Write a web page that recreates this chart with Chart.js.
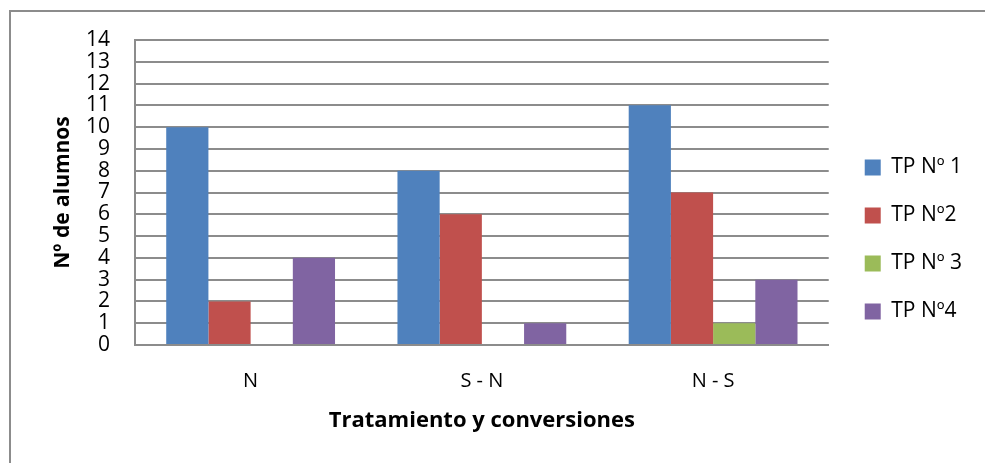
<!DOCTYPE html>
<html>
<head>
<meta charset="utf-8">
<script src="https://cdn.jsdelivr.net/npm/chart.js@4/dist/chart.umd.min.js"></script>
<style>
  html, body { margin: 0; padding: 0; background: #fff; }
  #wrap { width: 985px; height: 463px; position: relative; }
</style>
</head>
<body>
<div id="wrap"><canvas id="c" width="985" height="463"></canvas></div>
<script>
// Categories and series values
const categories = ['N', 'S - N', 'N - S'];
const seriesNames = ['TP Nº 1', 'TP Nº2', 'TP Nº 3', 'TP Nº4'];
const tp1 = [10, 8, 11];
const tp2 = [2, 6, 7];
const tp3 = [0, 0, 1];
const tp4 = [4, 1, 3];
const yTicks = [0, 1, 2, 3, 4, 5, 6, 7, 8, 9, 10, 11, 12, 13, 14];

const colors = ['#4F81BD', '#C0504D', '#9BBB59', '#8064A2'];
const FONT = '"Open Sans", sans-serif';

// Outer frame of the chart object (left and top edges)
const framePlugin = {
  id: 'frame',
  beforeDraw(chart) {
    const ctx = chart.ctx;
    ctx.save();
    ctx.strokeStyle = '#8c8c8c';
    ctx.lineWidth = 2;
    ctx.beginPath();
    ctx.moveTo(10, chart.height + 5);
    ctx.lineTo(10, 11);
    ctx.lineTo(chart.width + 5, 11);
    ctx.stroke();
    ctx.restore();
  }
};

// Leave a gap between the plot and the legend column
const legendGapPlugin = {
  id: 'legendGap',
  afterLayout(chart) {
    const lg = chart.legend;
    if (!lg) return;
    const shift = chart.chartArea.right + 9 - lg.left;
    lg.left += shift;
    lg.right += shift;
  }
};

new Chart(document.getElementById('c'), {
  type: 'bar',
  data: {
    labels: categories,
    datasets: [tp1, tp2, tp3, tp4].map((vals, i) => ({
      label: seriesNames[i],
      data: vals,
      backgroundColor: colors[i],
      borderWidth: 0,
      categoryPercentage: 0.73,
      barPercentage: 1.0
    }))
  },
  options: {
    responsive: false,
    animation: false,
    layout: { padding: { top: 40, left: 0, right: 22, bottom: 24 } },
    plugins: {
      tooltip: { enabled: false },
      legend: {
        position: 'right',
        align: 'center',
        labels: {
          boxWidth: 16,
          boxHeight: 16,
          padding: 27,
          color: '#000',
          font: { family: FONT, size: 21 }
        }
      }
    },
    scales: {
      x: {
        grid: { display: false, drawTicks: false },
        border: { display: true, color: '#8c8c8c', width: 2 },
        ticks: { color: '#000', padding: 24, font: { family: FONT, size: 20 } },
        title: {
          display: true,
          text: 'Tratamiento y conversiones',
          color: '#000',
          font: { family: FONT, size: 22, weight: 'bold' },
          padding: { top: 0, bottom: 5 }
        },
        afterFit(scale) { scale.height = 94; }
      },
      y: {
        min: 0,
        max: 14,
        afterBuildTicks(scale) { scale.ticks = yTicks.map(v => ({ value: v })); },
        grid: { color: '#8c8c8c', lineWidth: 2, drawTicks: false },
        border: { display: true, color: '#8c8c8c', width: 2 },
        ticks: { color: '#000', padding: 25, autoSkip: false, font: { family: FONT, size: 21 } },
        title: {
          display: true,
          text: 'Nº de alumnos',
          color: '#000',
          font: { family: FONT, size: 21, weight: 'bold' },
          padding: { top: 50, bottom: 0 }
        },
        afterFit(scale) { scale.width = 135; }
      }
    }
  },
  plugins: [framePlugin, legendGapPlugin]
});
</script>
</body>
</html>
